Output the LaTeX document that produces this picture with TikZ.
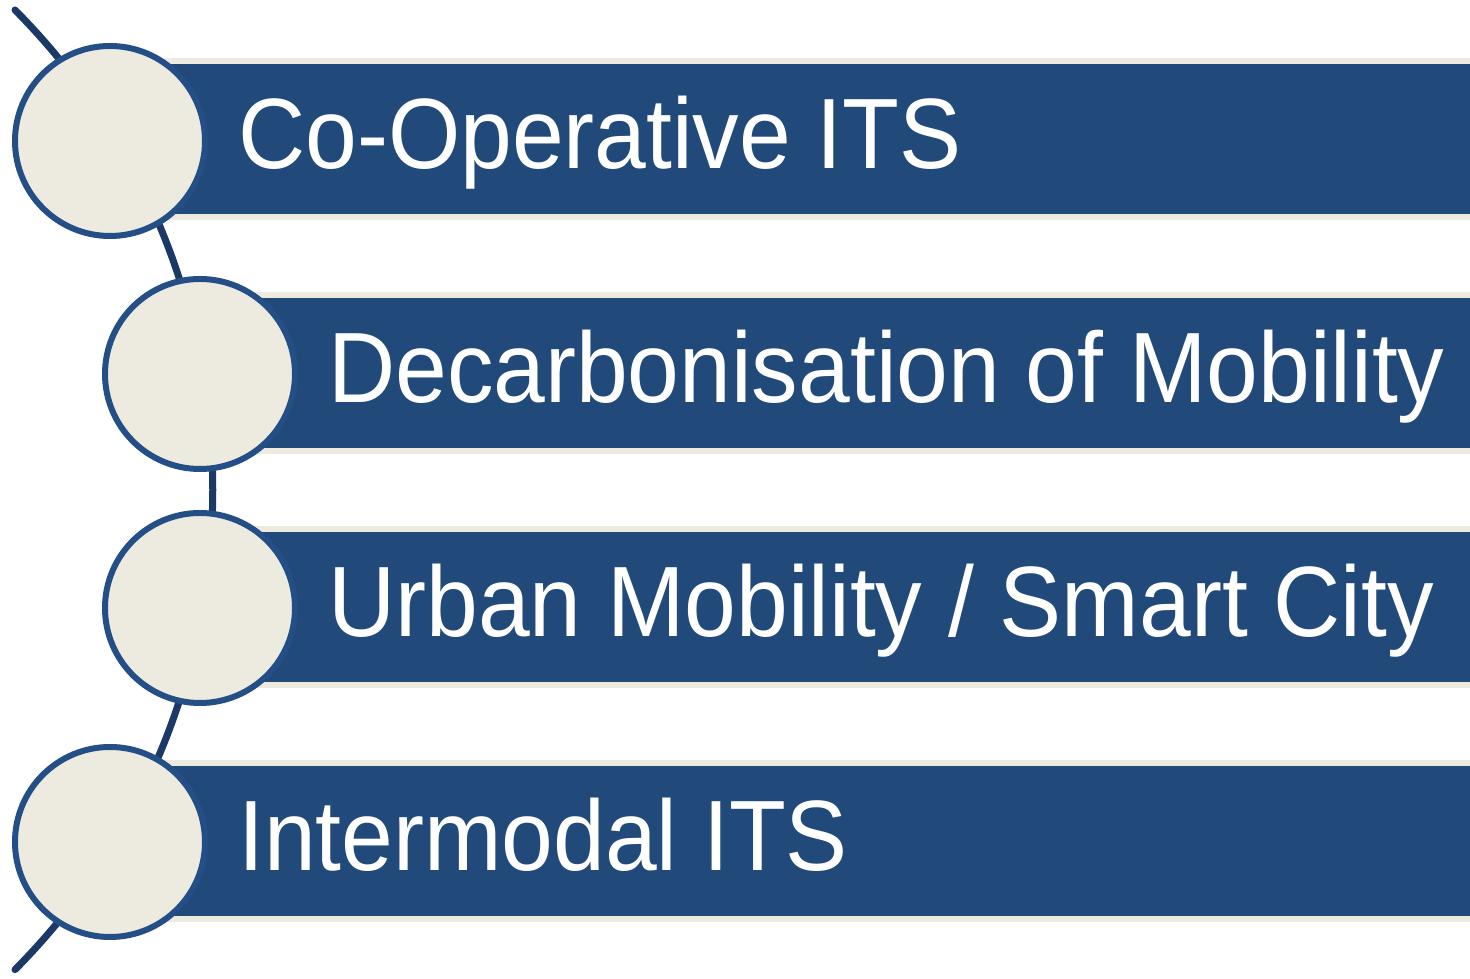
\documentclass[tikz,border=0pt]{standalone}
\usepackage{fontspec}
\setmainfont{Liberation Sans}
\newfontfamily\barfont[FakeStretch=0.93]{Liberation Sans}
\definecolor{barblue}{HTML}{214A7B}
\definecolor{beige}{HTML}{EDEBE0}
\definecolor{ringblue}{HTML}{244F86}
\definecolor{arcblue}{HTML}{1A3966}
\tikzset{
  band/.style={fill=beige, draw=none},
  barbox/.style={fill=barblue, draw=none},
  ball/.style={circle, fill=beige, draw=ringblue, line width=6pt, minimum size=190pt, inner sep=0pt},
  label/.style={anchor=base west, inner sep=0pt, text=white, font=\barfont\fontsize{100}{120}\selectfont},
  spine/.style={draw=arcblue, line width=7pt, line cap=round}
}
\begin{document}
\begin{tikzpicture}[x=1pt,y=1pt]
\useasboundingbox (0,0) rectangle (1470,979);
% spine arc
\coordinate (top) at (15,969);
\draw[spine] (top) arc[start angle=44.8, end angle=-44.8, radius=681];
% bands and bars
\foreach \i/\cx/\yb in {1/110/765, 2/200/531, 3/200/297, 4/110/63}{
  \fill[band] (\cx,\yb-6) rectangle (1470,\yb+156);
  \fill[barbox] (\cx,\yb) rectangle (1470,\yb+150);
}
% circles
\node[ball] (c1) at (110,838) {};
\node[ball] (c2) at (200,605) {};
\node[ball] (c3) at (200,371) {};
\node[ball] (c4) at (110,137) {};
% labels
\node[label] (t1) at (238,810) {Co-Operative ITS};
\node[label] (t2) at (328,576) {Decarbonisation of Mobility};
\node[label] (t3) at (328,342) {Urban Mobility / Smart City};
\node[label] (t4) at (238,108) {Intermodal ITS};
\end{tikzpicture}
\end{document}
